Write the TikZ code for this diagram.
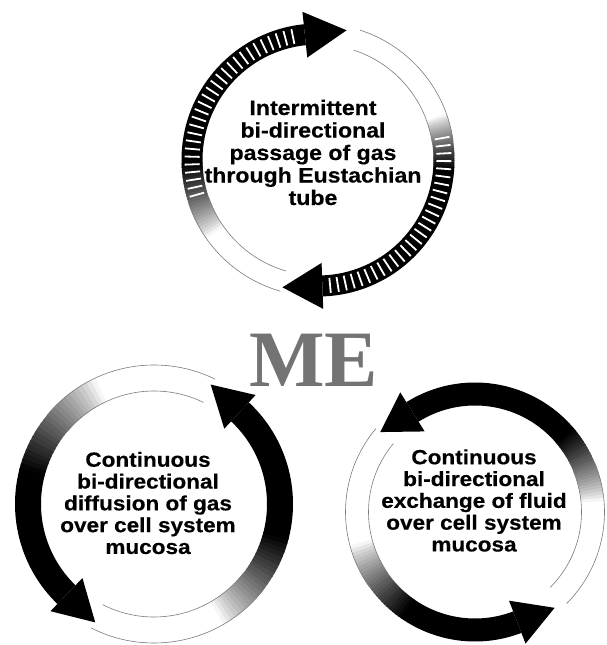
\documentclass[tikz,border=0pt]{standalone}
\usepackage{fontspec}
\setmainfont{Liberation Serif}
\newfontfamily\rotfont[FakeStretch=1.1, FakeBold=0.4]{Liberation Sans}
\usetikzlibrary{calc}
\definecolor{cgris}{HTML}{7A7A7A}
\tikzset{
  borde/.style={draw=cgris, line width=0.6pt},
  raya/.style={draw=white, line width=1.8pt},
  rotulo/.style={align=center, inner sep=0pt, text=black},
  rotulog/.style={rotulo, font=\rotfont\bfseries\fontsize{21}{22.5}\selectfont},
  rotulop/.style={rotulo, font=\rotfont\bfseries\fontsize{20.5}{21.8}\selectfont},
  sigla/.style={anchor=base, text=black!55, font=\bfseries\fontsize{80}{80}\selectfont},
}

% band fading from a thin outline into black, ending in a head
% #1 centre, #2 radius, #3 width, #4 tail, #5 fade start, #6 black start, #7 head base, #8 head length
\newcommand{\anillo}[8]{%
  \pgfmathsetmacro\radext{#2+#3/2}
  \pgfmathsetmacro\radint{#2-#3/2}
  \pgfmathsetmacro\cabext{#2+23}
  \pgfmathsetmacro\cabint{#2-23}
  \pgfmathsetmacro\angmed{(#5+#6)/2}
  \pgfmathsetmacro\sentido{sign(#7-#4)}
  \foreach \i in {0,...,23}{
    \pgfmathsetmacro\angA{#5+(#6-#5)*\i/24}
    \pgfmathsetmacro\angB{#5+(#6-#5)*(\i+1.4)/24}
    \pgfmathtruncatemacro\tono{100*((\i+0.5)/24)^0.8}
    \fill[black!\tono] ($(#1)+(\angA:\radext)$) arc[start angle=\angA, end angle=\angB, radius=\radext]
      -- ($(#1)+(\angB:\radint)$) arc[start angle=\angB, end angle=\angA, radius=\radint] -- cycle;
  }
  \fill[black] ($(#1)+(#6:\radext)$) arc[start angle=#6, end angle=#7, radius=\radext]
    -- ($(#1)+(#7:\radint)$) arc[start angle=#7, end angle=#6, radius=\radint] -- cycle;
  \fill[black] ($(#1)+(#7:\cabint)$) -- ($(#1)+(#7:\cabext)$)
    -- ($(#1)+(#7:#2)+({\sentido*#8*(-sin(#7))},{\sentido*#8*cos(#7)})$) -- cycle;
  \draw[borde] ($(#1)+(#4:\radext)$) arc[start angle=#4, end angle=\angmed, radius=\radext];
  \draw[borde] ($(#1)+(#4:\radint)$) arc[start angle=#4, end angle=\angmed, radius=\radint];
}

\begin{document}
\begin{tikzpicture}[x=1pt, y=1pt]
  \useasboundingbox (0,0) rectangle (606,645);
  \coordinate (ct) at (318,485);
  \coordinate (ci) at (154,141);
  \coordinate (cd) at (475,133);

  % Eustachian tube ring
  \anillo{ct}{126}{21}{254}{215}{182}{96}{42}
  \anillo{ct}{126}{21}{72}{20}{-4}{-88}{40}
  \foreach \a in {196,192.5,...,99} \draw[raya] ($(ct)+(\a:118.5)$) -- ($(ct)+(\a:133.5)$);
  \foreach \a in {10,6.5,...,-85} \draw[raya] ($(ct)+(\a:118.5)$) -- ($(ct)+(\a:133.5)$);

  % mucosa rings
  \anillo{ci}{126}{26}{-117}{-60}{-15}{47}{40}
  \anillo{ci}{126}{26}{64}{115}{165}{226}{40}
  \anillo{cd}{118}{23}{-45}{5}{40}{122}{38}
  \anillo{cd}{118}{23}{140}{195}{235}{291}{40}

  \node[sigla] (me) at (313.5,258) {ME};
  \node[rotulog] (tubo) at (313,492.5)
    {Intermittent\\bi-directional\\passage of gas\\through Eustachian\\tube};
  \node[rotulop] (gas) at (148,142)
    {Continuous\\bi-directional\\diffusion of gas\\over cell system\\mucosa};
  \node[rotulop] (fluido) at (474,144.5)
    {Continuous\\bi-directional\\exchange of fluid\\over cell system\\mucosa};
\end{tikzpicture}
\end{document}
